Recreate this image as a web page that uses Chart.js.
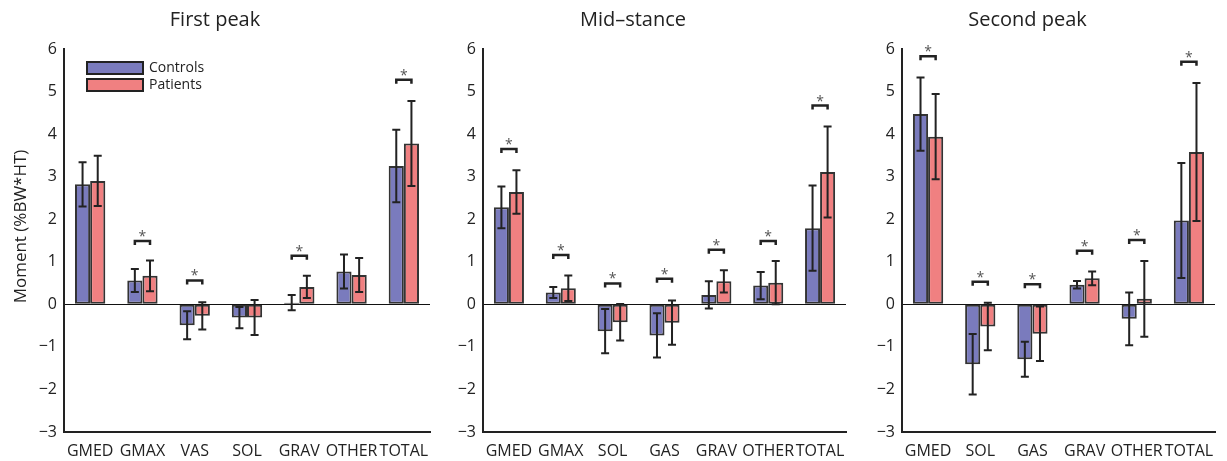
<!DOCTYPE html>
<html>
<head>
<meta charset="utf-8">
<script src="https://cdn.jsdelivr.net/npm/chart.js@4.4.0/dist/chart.umd.min.js"></script>
<style>
  body { margin: 0; background: #fff; width: 1227px; height: 461px; overflow: hidden; position: relative; }
  canvas { position: absolute; top: 0; }
</style>
</head>
<body>
<canvas id="c1" width="432" height="461" style="left:0"></canvas>
<canvas id="c2" width="428" height="461" style="left:420px"></canvas>
<canvas id="c3" width="387" height="461" style="left:840px"></canvas>
<script>
// First peak
const cats1 = ["GMED", "GMAX", "VAS", "SOL", "GRAV", "OTHER", "TOTAL"];
const ctrl1 = [2.82, 0.56, -0.49, -0.31, 0.04, 0.77, 3.25];
const ctrlSd1 = [0.52, 0.27, 0.33, 0.25, 0.18, 0.40, 0.85];
const pat1 = [2.90, 0.67, -0.27, -0.31, 0.41, 0.69, 3.78];
const patSd1 = [0.59, 0.36, 0.32, 0.41, 0.26, 0.40, 1.00];
const sig1 = [null, 1.49, 0.56, null, 1.14, null, 5.28];

// Mid-stance
const cats2 = ["GMED", "GMAX", "SOL", "GAS", "GRAV", "OTHER", "TOTAL"];
const ctrl2 = [2.28, 0.28, -0.63, -0.73, 0.22, 0.44, 1.79];
const ctrlSd2 = [0.49, 0.13, 0.52, 0.52, 0.32, 0.32, 1.00];
const pat2 = [2.64, 0.38, -0.42, -0.43, 0.54, 0.51, 3.11];
const patSd2 = [0.51, 0.30, 0.43, 0.52, 0.26, 0.51, 1.07];
const sig2 = [3.65, 1.16, 0.49, 0.60, 1.28, 1.49, 4.67];

// Second peak
const cats3 = ["GMED", "SOL", "GAS", "GRAV", "OTHER", "TOTAL"];
const ctrl3 = [4.47, -1.41, -1.29, 0.46, -0.34, 1.97];
const ctrlSd3 = [0.86, 0.71, 0.41, 0.09, 0.62, 1.35];
const pat3 = [3.94, -0.52, -0.69, 0.61, 0.13, 3.58];
const patSd3 = [1.00, 0.56, 0.64, 0.16, 0.89, 1.62];
const sig3 = [5.83, 0.53, 0.47, 1.26, 1.51, 5.70];

const yTicks = [-3, -2, -1, 0, 1, 2, 3, 4, 5, 6];
const yLabel = "Moment (%BW*HT)";

const BLUE = "#7a7bbd";
const RED = "#f08081";
const INK = "#222";
const FONT = "'Open Sans', 'Noto Sans', sans-serif";

// error bars + significance brackets + legend + y label
const extras = {
  id: "extras",
  afterDatasetsDraw(chart, args, opts) {
    const ctx = chart.ctx;
    const y = chart.scales.y;
    const a = chart.chartArea;
    ctx.save();
    chart.data.datasets.forEach((ds, di) => {
      const meta = chart.getDatasetMeta(di);
      meta.data.forEach((bar, i) => {
        const m = ds.data[i], s = ds.sd[i];
        const yt = y.getPixelForValue(m + s), yb = y.getPixelForValue(m - s);
        ctx.strokeStyle = INK;
        ctx.lineWidth = 2;
        ctx.beginPath();
        ctx.moveTo(bar.x, yt); ctx.lineTo(bar.x, yb);
        ctx.moveTo(bar.x - 4, yt); ctx.lineTo(bar.x + 4, yt);
        ctx.moveTo(bar.x - 4, yb); ctx.lineTo(bar.x + 4, yb);
        ctx.stroke();
      });
    });
    const m0 = chart.getDatasetMeta(0), m1 = chart.getDatasetMeta(1);
    opts.sig.forEach((h, i) => {
      if (h === null) return;
      const x0 = m0.data[i].x, x1 = m1.data[i].x;
      const py = y.getPixelForValue(h);
      ctx.strokeStyle = INK;
      ctx.lineWidth = 2.5;
      ctx.beginPath();
      ctx.moveTo(x0, py + 4); ctx.lineTo(x0, py); ctx.lineTo(x1, py); ctx.lineTo(x1, py + 4);
      ctx.stroke();
      ctx.fillStyle = "#555";
      ctx.font = "14px " + FONT;
      ctx.textAlign = "center";
      ctx.textBaseline = "middle";
      ctx.fillText("*", (x0 + x1) / 2, py - 4);
    });
    if (opts.legend) {
      chart.data.datasets.forEach((ds, di) => {
        const bx = a.left + 23, by = a.top + 13 + di * 17;
        ctx.fillStyle = ds.backgroundColor;
        ctx.fillRect(bx, by, 56, 12);
        ctx.strokeStyle = INK;
        ctx.lineWidth = 2;
        ctx.strokeRect(bx, by, 56, 12);
        ctx.fillStyle = INK;
        ctx.font = "14px " + FONT;
        ctx.textAlign = "left";
        ctx.textBaseline = "middle";
        ctx.fillText(ds.label, bx + 62, by + 6);
      });
    }
    if (opts.yTitle) {
      // matlab puts the label a bit above the axis centre
      ctx.translate(21, (a.top + a.bottom) / 2 - 14);
      ctx.rotate(-Math.PI / 2);
      ctx.fillStyle = INK;
      ctx.font = "17px " + FONT;
      ctx.textAlign = "center";
      ctx.textBaseline = "middle";
      ctx.fillText(opts.yTitle, 0, 0);
    }
    ctx.restore();
  }
};

function makePanel(id, title, cats, ctrl, ctrlSd, pat, patSd, sig, yWidth, padRight, yTitle, showLegend) {
  return new Chart(document.getElementById(id), {
    type: "bar",
    data: {
      labels: cats,
      datasets: [
        { label: "Controls", data: ctrl, sd: ctrlSd, backgroundColor: BLUE, borderColor: "#333", borderWidth: 2, borderSkipped: false },
        { label: "Patients", data: pat, sd: patSd, backgroundColor: RED, borderColor: "#333", borderWidth: 2, borderSkipped: false }
      ]
    },
    options: {
      responsive: false,
      animation: false,
      categoryPercentage: 0.58,
      barPercentage: 1.0,
      layout: { padding: { left: 0, right: padRight, top: 0, bottom: 0 } },
      plugins: {
        legend: { display: false },
        tooltip: { enabled: false },
        title: {
          display: true,
          text: title,
          color: INK,
          font: { family: FONT, size: 20, weight: "normal" },
          padding: { top: 8, bottom: 17 }
        },
        extras: { sig: sig, legend: showLegend, yTitle: yTitle }
      },
      scales: {
        x: {
          grid: { display: false },
          border: { display: true, color: INK, width: 2 },
          ticks: { color: INK, font: { family: FONT, size: 16 }, padding: 2, autoSkip: false, maxRotation: 0 },
          afterFit: s => { s.height = 29; }
        },
        y: {
          min: -3,
          max: 6,
          afterBuildTicks: s => { s.ticks = yTicks.map(v => ({ value: v })); },
          grid: {
            drawTicks: false,
            lineWidth: 1,
            color: c => (c.tick && c.tick.value === 0 ? "#111" : "rgba(0,0,0,0)")
          },
          border: { display: true, color: INK, width: 2 },
          ticks: {
            color: INK,
            padding: 7,
            font: { family: FONT, size: 16 },
            callback: v => (v < 0 ? "\u2212" + Math.abs(v) : String(v))
          },
          afterFit: s => { s.width = yWidth; }
        }
      }
    },
    plugins: [extras]
  });
}

makePanel("c1", "First peak", cats1, ctrl1, ctrlSd1, pat1, patSd1, sig1, 64, 2, yLabel, true);
makePanel("c2", "Mid\u2013stance", cats2, ctrl2, ctrlSd2, pat2, patSd2, sig2, 63, 2, null, false);
makePanel("c3", "Second peak", cats3, ctrl3, ctrlSd3, pat3, patSd3, sig3, 62, 12, null, false);
</script>
</body>
</html>
